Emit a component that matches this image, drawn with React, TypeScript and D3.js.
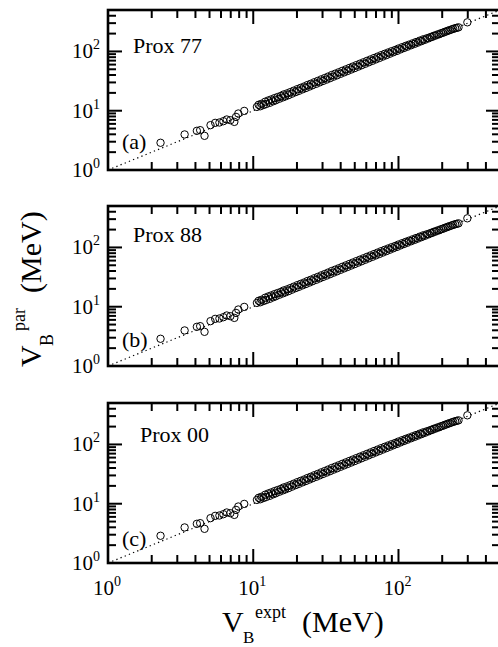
import React from 'react';
import * as d3 from 'd3';

// Experimental barrier heights (MeV)
const vbExpt = [
  2.3, 3.37, 4.09, 4.31, 4.62, 5.08, 5.47, 5.85, 6.23, 6.57, 6.96, 7.41, 7.61, 7.89, 8.67,
  10.6, 10.9, 11.2, 11.4, 11.8, 12.1, 12.3, 12.7, 13.0, 13.3, 13.7, 14.0, 14.3, 14.7, 15.1,
  15.5, 15.9, 16.2, 16.6, 17.1, 17.5, 18.0, 18.5, 19.0, 19.6, 20.1, 20.6, 21.2, 21.8, 22.4,
  23.0, 23.6, 24.3, 24.9, 25.6, 26.3, 27.1, 27.8, 28.6, 29.4, 30.2, 31.1, 32.0, 32.8, 33.8,
  34.7, 35.7, 36.7, 37.7, 38.8, 39.9, 41.0, 42.2, 43.4, 44.6, 45.9, 47.2, 48.5, 49.9, 51.3,
  52.8, 54.3, 55.8, 57.4, 59.0, 60.7, 62.4, 64.2, 66.0, 67.9, 69.8, 71.8, 73.8, 75.9, 78.1,
  80.3, 82.6, 84.9, 87.3, 89.8, 92.3, 94.9, 97.6, 100, 103, 106, 109, 112, 115, 118,
  122, 125, 129, 132, 136, 140, 144, 148, 152, 157, 161, 166, 170, 175, 180,
  185, 191, 196, 202, 207, 213, 219, 225, 232, 238, 245, 252, 259, 298,
];

// Parametrized barrier heights (MeV)
const vbPar = [
  2.88, 3.98, 4.58, 4.70, 3.77, 5.71, 6.24, 6.33, 6.66, 7.11, 6.92, 6.48, 7.87, 8.97, 9.93,
  11.6, 12.6, 11.9, 13.1, 12.5, 14.2, 13.0, 14.9, 13.6, 15.5, 14.4, 16.3, 15.0, 17.0, 15.9,
  17.8, 16.7, 18.8, 17.4, 19.6, 18.3, 20.6, 19.4, 21.8, 20.6, 23.1, 21.6, 24.3, 22.9, 25.6,
  24.1, 27.1, 25.5, 28.5, 26.9, 30.2, 28.4, 31.8, 30.0, 33.8, 31.7, 35.6, 33.5, 37.7, 35.4,
  40.0, 37.5, 42.2, 39.5, 44.5, 41.9, 47.1, 44.3, 49.8, 46.8, 52.6, 49.5, 55.6, 52.3, 58.8,
  55.4, 62.2, 58.5, 65.6, 61.9, 69.4, 65.5, 73.3, 69.3, 77.5, 73.3, 81.8, 77.5, 86.4, 82.0,
  91.1, 86.7, 96.0, 91.6, 101, 96.9, 106, 102, 112, 108, 118, 114, 124, 120, 130,
  127, 137, 134, 144, 141, 152, 149, 160, 157, 167, 166, 175, 175, 184, 185,
  193, 195, 203, 206, 213, 217, 224, 228, 235, 240, 246, 250, 255, 310,
];

const panelNames = ['Prox 77', 'Prox 88', 'Prox 00'];
const panelTags = ['(a)', '(b)', '(c)'];
const decadeExps = [0, 1, 2];
const axisDomain = [1, 500];

const W = 498;
const H = 647;
const left = 108;
const right = 500;
const panelTops = [10, 206, 403];
const panelH = 160;
const nameOffsets = [
  { x: 133, y: 43 },
  { x: 133, y: 36 },
  { x: 140, y: 39 },
];
const tagOffsets = [21, 19, 17];

const FONT = "'Liberation Serif', 'Times New Roman', Times, serif";

function Panel({ idx }: { idx: number }) {
  const top = panelTops[idx];
  const bottom = top + panelH;
  const x = d3.scaleLog().domain(axisDomain).range([left, right]);
  const y = d3.scaleLog().domain(axisDomain).range([bottom, top]);
  const xt = x.ticks();
  const yt = y.ticks();
  const isMajor = (t: number) => Math.abs(Math.log10(t) - Math.round(Math.log10(t))) < 1e-9;
  const MAJ = 14;
  const MIN = 8;
  const clipId = `clip-${idx}`;
  const line = d3
    .line<number>()
    .x((d) => x(d))
    .y((d) => y(d));
  return (
    <g>
      <defs>
        <clipPath id={clipId}>
          <rect x={left} y={top} width={right - left} height={panelH} />
        </clipPath>
      </defs>
      <g clipPath={`url(#${clipId})`}>
        <path
          d={line(axisDomain) || ''}
          stroke="#000"
          strokeWidth={1.2}
          strokeDasharray="1.3 3.2"
          fill="none"
        />
        {vbExpt.map((v, i) => (
          <circle
            key={i}
            cx={x(v)}
            cy={y(vbPar[i])}
            r={3.7}
            fill="none"
            stroke="#000"
            strokeWidth={1}
          />
        ))}
      </g>
      {xt.map((t, i) => {
        const L = isMajor(t) ? MAJ : MIN;
        const px = x(t);
        return (
          <g key={'x' + i}>
            <line x1={px} x2={px} y1={bottom} y2={bottom - L} stroke="#000" strokeWidth={2} />
            <line x1={px} x2={px} y1={top} y2={top + L} stroke="#000" strokeWidth={2} />
          </g>
        );
      })}
      {yt.map((t, i) => {
        const L = isMajor(t) ? MAJ : MIN;
        const py = y(t);
        return (
          <g key={'y' + i}>
            <line x1={left} x2={left + L} y1={py} y2={py} stroke="#000" strokeWidth={2} />
            <line x1={right} x2={right - L} y1={py} y2={py} stroke="#000" strokeWidth={2} />
          </g>
        );
      })}
      <rect
        x={left}
        y={top}
        width={right - left}
        height={panelH}
        fill="none"
        stroke="#000"
        strokeWidth={2.6}
      />
      {decadeExps.map((e) => (
        <text
          key={'yl' + e}
          x={100}
          y={y(Math.pow(10, e)) + 7}
          textAnchor="end"
          fontFamily={FONT}
          fontSize={21}
        >
          10
          <tspan dy={-9} fontSize={14}>
            {e}
          </tspan>
        </text>
      ))}
      <text
        x={nameOffsets[idx].x}
        y={top + nameOffsets[idx].y}
        fontFamily={FONT}
        fontSize={22}
      >
        {panelNames[idx]}
      </text>
      <text x={122} y={bottom - tagOffsets[idx]} fontFamily={FONT} fontSize={22}>
        {panelTags[idx]}
      </text>
      {idx === 2 &&
        decadeExps.map((e) => (
          <text
            key={'xl' + e}
            x={x(Math.pow(10, e)) - 1}
            y={bottom + 32}
            textAnchor="middle"
            fontFamily={FONT}
            fontSize={21}
          >
            10
            <tspan dy={-9} fontSize={14}>
              {e}
            </tspan>
          </text>
        ))}
    </g>
  );
}

export default function App() {
  return (
    <svg
      width={W}
      height={H}
      viewBox={`0 0 ${W} ${H}`}
      style={{ position: 'absolute', left: 0, top: 0, background: '#fff' }}
    >
      <rect x={0} y={0} width={W} height={H} fill="#fff" />
      {[0, 1, 2].map((i) => (
        <Panel key={i} idx={i} />
      ))}
      <g fontFamily={FONT}>
        <text x={222} y={632} fontSize={30}>V</text>
        <text x={243} y={643} fontSize={17}>B</text>
        <text x={255} y={618} fontSize={18}>expt</text>
        <text x={302} y={632} fontSize={30}>(MeV)</text>
      </g>
      <g fontFamily={FONT} transform="translate(41,367) rotate(-90)">
        <text x={0} y={0} fontSize={30}>V</text>
        <text x={21} y={12} fontSize={18}>B</text>
        <text x={36} y={-16} fontSize={18}>par</text>
        <text x={74} y={0} fontSize={30}>(MeV)</text>
      </g>
    </svg>
  );
}
